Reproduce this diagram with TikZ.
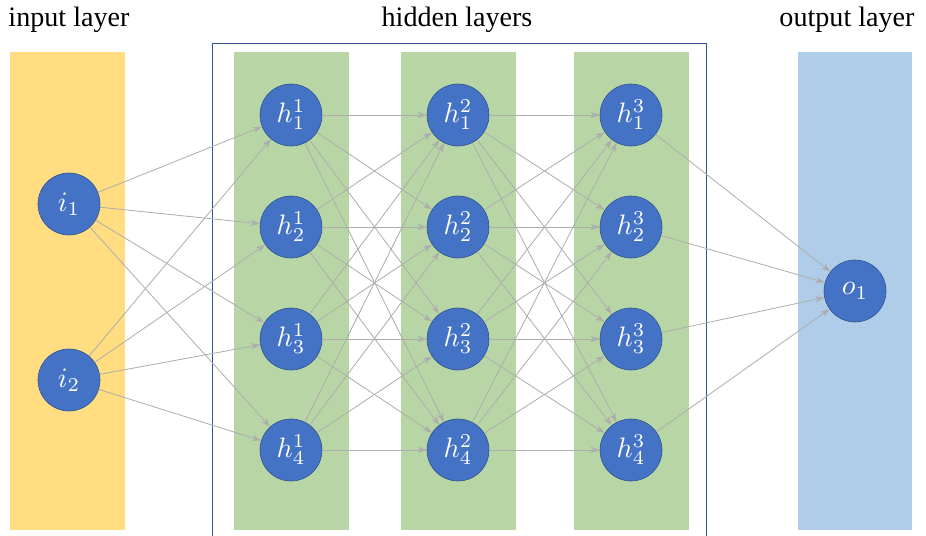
\documentclass[tikz,border=0pt]{standalone}
\usepackage{graphicx}
\usepackage{fontspec}
\setmainfont{Liberation Serif}
\usetikzlibrary{arrows.meta}

\definecolor{inyellow}{HTML}{FFDD80}
\definecolor{hidgreen}{HTML}{B8D6A5}
\definecolor{outblue}{HTML}{AFCDE9}
\definecolor{neuron}{HTML}{4472C4}
\definecolor{neuronedge}{HTML}{2F528F}
\definecolor{boxblue}{HTML}{2F5597}
\definecolor{wire}{HTML}{ADADAD}

% neuron label, blown up to fit the big circles
\newcommand{\nlab}[1]{\scalebox{2.4}{$#1$}}

\tikzset{
  unit/.style={circle,fill=neuron,draw=neuronedge,line width=0.5pt,
    minimum size=1.86cm,inner sep=0pt,text=white},
  wt/.style={draw=wire,line width=0.7pt,-{Stealth[length=0.28cm,width=0.19cm]}},
  title/.style={font=\fontsize{24}{28}\selectfont}
}

\begin{document}
\begin{tikzpicture}[x=0.03cm,y=-0.03cm]
 \useasboundingbox (0,0) rectangle (926,536);
 % coloured layer bands
 \fill[inyellow] (10,52) rectangle (125,530);
 \fill[hidgreen] (234,52) rectangle (349,530);
 \fill[hidgreen] (401,52) rectangle (516,530);
 \fill[hidgreen] (574,52) rectangle (689,530);
 \fill[outblue] (798,52) rectangle (912,530);
 % frame round the hidden layers, open at the bottom
 \draw[boxblue,line width=0.8pt] (212,536) -- (212,43) -- (706,43) -- (706,536);

 \node[title] (tin) at (69,20) {input layer};
 \node[title] (thid) at (457,20) {hidden layers};
 \node[title] (tout) at (847,20) {output layer};

 % neurons
 \node[unit] (i1) at (69,204) {\nlab{i_1}};
 \node[unit] (i2) at (69,380) {\nlab{i_2}};
 \foreach \l/\x in {1/291,2/458,3/631}
   \foreach \k/\y in {1/115,2/227,3/339,4/450}
     \node[unit] (h\l\k) at (\x,\y) {\nlab{h^{\l}_{\k}}};
 \node[unit] (o1) at (855,291) {\nlab{o_1}};

 % weights
 \foreach \a in {1,2}
   \foreach \b in {1,...,4}
     \draw[wt] (i\a) -- (h1\b);
 \foreach \a in {1,...,4}
   \foreach \b in {1,...,4}{
     \draw[wt] (h1\a) -- (h2\b);
     \draw[wt] (h2\a) -- (h3\b);
   }
 \foreach \a in {1,...,4}
   \draw[wt] (h3\a) -- (o1);
\end{tikzpicture}
\end{document}
